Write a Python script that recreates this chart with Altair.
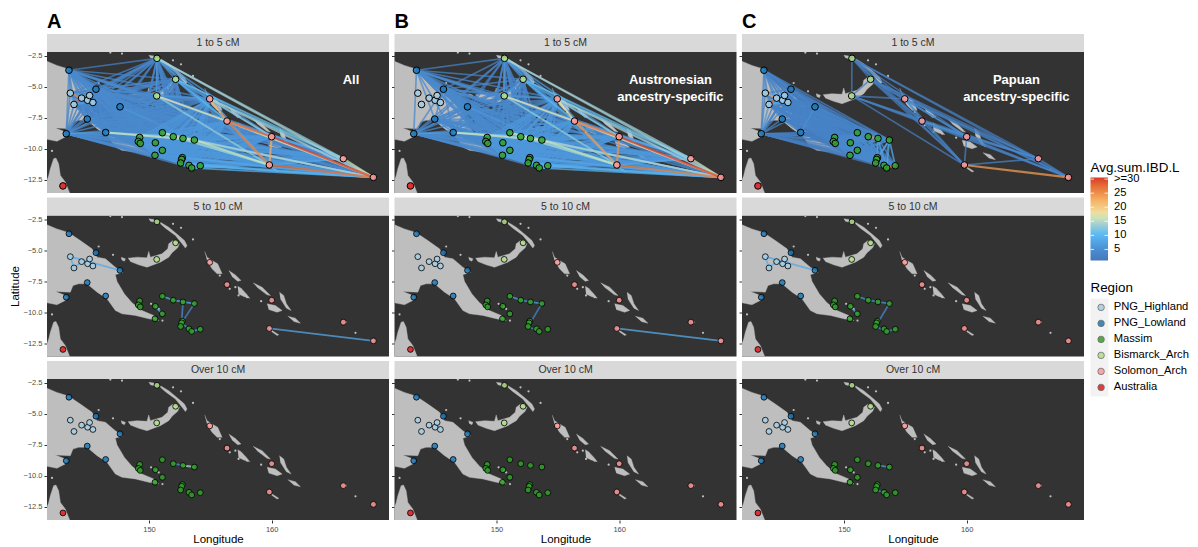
import altair as alt
import pandas as pd

FONT = "Liberation Sans"
REGIONS = ["PNG_Highland", "PNG_Lowland", "Massim", "Bismarck_Arch", "Solomon_Arch", "Australia"]
REGION_COLORS = ["#a6cee3", "#1f78b4", "#33a02c", "#b2df8a", "#fb9a99", "#e31a1c"]
IBD_STOPS = [1, 5, 10, 14, 17, 22, 30.5]
IBD_COLORS = ["#4478b8", "#4a8fd2", "#5ab8f6", "#a9cfd2", "#f0e6b0", "#f7b56a", "#d9382a"]
IBD_TICKS = [5, 10, 15, 20, 25, 30]
LON_RANGE = [141.69, 169.56]
LAT_RANGE = [-13.55, -2.18]
ROWS = ["1 to 5 cM", "5 to 10 cM", "Over 10 cM"]
COLS = ["A", "B", "C"]

site_id = ["H1","H2","H3","H4","H5","H6","L1","L2","L3","L4","L5","L6",
           "M1","M2","M3","M4","M5","M6","M7","M8","M9","M10","M11","M12","M13","M14","M15","M16",
           "B1","B2","B3","S1","S2","S3","S4","S5","S6","AU"]
site_lon = [143.59,144.51,145.00,145.16,145.43,143.89,143.48,145.68,147.64,144.97,143.26,146.47,
            149.24,149.13,149.29,151.09,151.98,152.77,153.70,150.52,151.09,150.49,152.72,152.66,152.58,153.26,153.48,154.18,
            150.65,152.17,150.63,154.95,156.36,160.00,159.81,165.84,168.29,142.99]
site_lat = [-5.50,-5.90,-6.07,-5.69,-6.25,-6.41,-3.65,-5.18,-6.60,-7.59,-8.77,-8.67,
            -9.07,-9.39,-9.55,-8.69,-9.01,-9.15,-9.28,-9.50,-10.11,-10.51,-10.70,-10.84,-11.13,-11.32,-11.53,-11.35,
            -2.69,-4.38,-5.72,-5.96,-7.75,-9.01,-11.29,-10.78,-12.29,-12.98]
site_region = ["PNG_Highland"]*6 + ["PNG_Lowland"]*6 + ["Massim"]*16 + ["Bismarck_Arch"]*3 + ["Solomon_Arch"]*6 + ["Australia"]

# Land outlines, lon/lat
land = {
 "new_guinea": [(141.0,-2.75),(141.69,-2.93),(142.50,-3.26),(143.43,-3.55),(144.41,-4.20),(145.36,-4.87),(145.77,-5.54),(146.45,-5.67),(147.26,-6.35),(147.89,-6.75),(147.26,-6.96),(147.40,-7.50),(148.00,-8.50),(148.62,-9.22),(149.43,-9.84),(150.39,-10.24),(150.79,-10.65),(149.98,-10.51),(148.89,-10.24),(147.80,-10.11),(147.26,-9.84),(146.58,-8.90),(145.77,-8.36),(144.95,-7.69),(144.27,-7.69),(143.81,-7.83),(143.59,-8.36),(142.37,-8.31),(143.05,-8.58),(143.37,-8.77),(143.18,-9.03),(142.50,-9.38),(141.69,-9.22),(141.0,-9.15)],
 "new_britain": [(148.29,-5.62),(149.03,-5.54),(149.84,-5.59),(149.98,-5.08),(150.11,-5.54),(151.06,-5.27),(151.53,-4.87),(151.61,-4.46),(151.96,-4.20),(152.48,-4.46),(152.34,-4.79),(151.88,-5.19),(151.61,-5.54),(150.93,-5.94),(149.84,-6.35),(149.16,-6.16),(148.48,-5.89)],
 "new_ireland": [(150.93,-2.72),(151.61,-3.12),(152.42,-3.79),(152.89,-4.20),(153.10,-4.60),(152.97,-4.81),(152.70,-4.46),(152.15,-3.79),(151.34,-3.20),(150.93,-2.85)],
 "new_hanover": [(149.98,-2.45),(150.39,-2.50),(150.44,-2.72),(150.11,-2.64)],
 "umboi": [(147.72,-5.54),(148.08,-5.67),(148.00,-5.86),(147.78,-5.76)],
 "bougainville": [(154.54,-5.08),(154.73,-5.54),(155.14,-5.81),(155.60,-6.08),(155.96,-6.88),(155.55,-6.88),(155.14,-6.48),(154.73,-5.81)],
 "choiseul": [(156.50,-6.62),(157.04,-6.97),(157.50,-7.42),(157.23,-7.48),(156.77,-7.10)],
 "new_georgia": [(157.23,-7.88),(157.50,-8.04),(157.94,-8.50),(158.21,-8.85),(157.72,-8.71),(157.30,-8.50)],
 "santa_isabel": [(158.48,-7.61),(159.22,-7.96),(159.90,-8.63),(159.62,-8.58),(158.81,-7.96)],
 "malaita": [(160.63,-8.36),(160.98,-8.63),(161.20,-9.30),(161.58,-9.84),(161.20,-9.65),(160.71,-8.90)],
 "guadalcanal": [(159.62,-9.30),(160.30,-9.44),(160.85,-9.84),(160.44,-9.98),(159.76,-9.76)],
 "makira": [(161.31,-10.30),(161.93,-10.46),(162.34,-10.86),(161.80,-10.73)],
 "rennell": [(160.03,-11.45),(160.58,-11.80),(160.44,-11.86),(159.98,-11.53)],
 "cape_york": [(141.0,-12.60),(141.69,-12.53),(141.83,-12.13),(141.96,-11.59),(142.23,-10.78),(142.42,-10.73),(142.64,-11.19),(142.78,-12.13),(143.18,-12.66),(143.54,-13.55),(143.60,-14.2),(141.0,-14.2)],
}
islet_lon = [145.90,147.07,142.10,151.96,152.61,153.59,150.79,150.17,166.83,166.05,159.14,155.77,146.85,147.80,157.30,158.00,157.04,156.58,150.60,151.10]
islet_lat = [-4.68,-5.35,-10.16,-2.85,-3.17,-4.11,-9.71,-9.30,-11.64,-10.78,-9.09,-7.02,-2.23,-2.31,-8.63,-8.77,-7.96,-8.09,-9.55,-10.65]

# Average sharing between region pairs in the 1 to 5 cM panels
pairs_A = {"HL-HL":7,"HL-LL":3,"HL-MA":3,"HL-BI":3,"HL-SO":3,"LL-LL":4,"LL-MA":4,"LL-BI":3,"LL-SO":4,
           "MA-MA":6,"MA-BI":3,"MA-SO":6,"BI-BI":6,"BI-SO":6,"SO-SO":8}
pairs_B = {"LL-LL":4,"LL-MA":4,"LL-BI":3,"LL-SO":4,"MA-MA":6,"MA-BI":3,"MA-SO":6,"BI-BI":6,"BI-SO":6,"SO-SO":8}
pairs_C = {"HL-HL":8,"HL-LL":3,"HL-MA":3,"LL-LL":3,"LL-MA":2,"MA-MA":4,"BI-BI":2,"BI-SO":2,"SO-SO":3}
strong_A = [("S3","S6",30),("S2","S3",28),("S4","S6",27),("S2","S4",26),("S3","S4",23),("S1","S2",22),("H2","H6",28),("H1","H2",26),
            ("S2","S6",17),("S5","S6",16),("B3","S2",17),("B1","S6",14),("B1","S5",13),("S1","S6",14),("S1","S5",12),("S1","S3",13),
            ("M4","M7",16),("M7","S4",16),("M7","S6",14),("L6","M7",16),("L6","M5",13),("M5","S4",13),("M6","S6",13),("B3","S4",13),("M4","S4",13),
            ("S3","S5",8),("B2","S5",11),("B2","S2",10),("M16","S6",9),("M15","S6",9),("M14","S6",9),("M13","S6",9),("M11","S6",8),("L5","L6",7),("L3","M7",6),("B1","L1",2)]
strong_B = [("S3","S6",30),("S2","S3",27),("S4","S6",26),("S3","S4",25),("S2","S4",24),("S1","S2",17),
            ("S2","S6",17),("S5","S6",16),("B3","S2",17),("B1","S6",14),("B1","S5",13),("S1","S6",14),("S1","S5",12),("S1","S3",13),
            ("M4","M7",16),("M7","S4",16),("M7","S6",14),("L6","M7",16),("L6","M5",13),("M5","S4",13),("M6","S6",13),("B3","S4",13),("M4","S4",13),
            ("B2","S5",11),("B2","S2",10),("M16","S6",9),("M15","S6",9),("M14","S6",9),("M13","S6",9),("M11","S6",8),("L5","L6",7),("L3","M7",6)]
strong_C = [("S4","S6",24),("H2","H6",28),("H1","H2",24),("M15","M16",27),("M5","M6",25),("S1","S2",6),("S1","S3",5),("S2","S3",5),
            ("L3","M7",4),("L3","L6",5),("L1","H1",5),("L5","H6",6),("M7","M16",8),("M7","M15",8),("M6","M15",7),("M7","M12",7),("M6","M11",7),("S2","S5",4)]

# Specific pairs of sites in the longer length classes
edges_5_10 = {
 "A": [("H1","L3",8),("H1","H6",9),("H6","H2",9),("M4","M5",9),("M5","M6",10),("M6","M7",9),("M6","M12",5),("M7","M12",4),("M8","M9",9),("M12","M14",6),("M14","M15",6),("M15","M16",8),("S4","S6",8)],
 "B": [("M4","M5",8),("M5","M6",6),("M6","M7",7),("M7","M13",3),("M13","M15",4),("S4","S6",8.5)],
 "C": [("H1","L3",8),("H1","H6",9),("H6","H2",9),("M4","M5",6),("M5","M6",5),("M6","M7",5),("M7","M13",4),("M8","M9",8),("M13","M15",5),("M15","M16",6)],
}
edges_over_10 = {
 "A": [("M5","M6",6),("M6","M7",15)],
 "B": [],
 "C": [("M6","M7",7),("M13","M14",5)],
}
notes = {"A": ["All"], "B": ["Austronesian", "ancestry-specific"], "C": ["Papuan", "ancestry-specific"]}
note_lon = {"A": 166.46, "B": 164.18, "C": 164.05}
note_lat = [-4.44, -5.81]

code = {"PNG_Highland":"HL","PNG_Lowland":"LL","Massim":"MA","Bismarck_Arch":"BI","Solomon_Arch":"SO"}
pos = {s:(x,y,r) for s,x,y,r in zip(site_id, site_lon, site_lat, site_region)}

def table(triples):
    rows = [dict(lon1=pos[a][0], lat1=pos[a][1], lon2=pos[b][0], lat2=pos[b][1], ibd=v) for a,b,v in triples]
    rows.sort(key=lambda r: r["ibd"])
    return pd.DataFrame(rows, columns=["lon1","lat1","lon2","lat2","ibd"])

def first_class(pairs, strong):
    named = {frozenset((a,b)):v for a,b,v in strong}
    out = []
    ids = [s for s in site_id if s != "AU"]
    for i,a in enumerate(ids):
        for b in ids[i+1:]:
            ra, rb = code[pos[a][2]], code[pos[b][2]]
            v = pairs.get(ra+"-"+rb, pairs.get(rb+"-"+ra))
            v = named.get(frozenset((a,b)), v)
            if v is not None:
                out.append((a,b,v))
    return out

edge_tables = {
 ("A",0): table(first_class(pairs_A, strong_A)),
 ("B",0): table(first_class(pairs_B, strong_B)),
 ("C",0): table(first_class(pairs_C, strong_C)),
}
for c in COLS:
    edge_tables[(c,1)] = table(edges_5_10[c])
    edge_tables[(c,2)] = table(edges_over_10[c])

land_df = pd.DataFrame([dict(island=k, ord=i, lon=p[0], lat=p[1]) for k,v in land.items() for i,p in enumerate(v)])
islet_df = pd.DataFrame(dict(lon=islet_lon, lat=islet_lat))
site_df = pd.DataFrame(dict(site=site_id, lon=site_lon, lat=site_lat, Region=site_region))

W, H, STRIP, GAP, SPACE = 342, 141, 18, 4.5, 5.5
DARK, LAND, STRIP_BG = "#333333", "#bebebe", "#d9d9d9"
GREY = "#4d4d4d"
LEG_X = W + SPACE + 1             # legend column, relative to the last panel
GRAD_TOP, GRAD_LEN = 177.7 - 379, 83
ROOT_X = 2 * (W + SPACE) + LEG_X  # the same column, relative to the first panel
ROOT_TOP = 52                     # page y of the top of the first panel

stroke_legend = alt.Legend(type="gradient", title="Avg.sum.IBD.L", orient="none", direction="vertical",
                           legendX=ROOT_X, legendY=160.5-ROOT_TOP, gradientLength=GRAD_LEN, gradientThickness=17.5, values=IBD_TICKS,
                           labelExpr="datum.value >= 30 ? '>=30' : datum.label", labelFontSize=11.2, labelColor="black",
                           titleFontSize=13.4, titleFontWeight="normal", titleColor="black", labelOverlap=False,
                           titleFont=FONT, labelFont=FONT, titlePadding=3.5, labelOffset=6)
fill_legend = alt.Legend(title="Region", orient="none", legendX=ROOT_X, legendY=281-ROOT_TOP, symbolType="circle", symbolSize=42,
                         symbolStrokeColor="#555555", symbolStrokeWidth=0.8, symbolOpacity=0.85, symbolOffset=5, labelFontSize=11.2, labelColor="black",
                         titleFontSize=13.4, titleFontWeight="normal", titleColor="black", clipHeight=12, rowPadding=4, labelOffset=7,
                         titleFont=FONT, labelFont=FONT, titlePadding=7)

def x_enc(field, r):
    scale = alt.Scale(domain=LON_RANGE, nice=False, zero=False)
    if r < 2:
        return alt.X(field, type="quantitative", scale=scale, axis=None)
    return alt.X(field, type="quantitative", scale=scale, title="Longitude",
                 axis=alt.Axis(values=[150,160], format="d", grid=False, domain=False, labelFontSize=7.5, labelColor=GREY,
                               tickColor="#333333", tickSize=3, titleFontSize=11.5, titleFontWeight="normal", titleColor="black",
                               titlePadding=1, labelPadding=2, titleFont=FONT, labelFont=FONT))

def y_enc(field, r, c):
    scale = alt.Scale(domain=LAT_RANGE, nice=False, zero=False)
    title = "Latitude" if (r == 1 and c == 0) else None
    return alt.Y(field, type="quantitative", scale=scale, title=title,
                 axis=alt.Axis(values=[-2.5,-5,-7.5,-10,-12.5], format=".1f", grid=False, domain=False, labels=(c == 0), labelFontSize=7.5,
                               labelColor=GREY, tickColor="#333333", tickSize=3, labelPadding=2, titleFontSize=11.5, titleFontWeight="normal",
                               titleColor="black", titlePadding=3, titleFont=FONT, labelFont=FONT))

def panel(c, r):
    ci = COLS.index(c)
    with_ticks = (c == "C" and r == 2)
    strip_df = pd.DataFrame(dict(t=[ROWS[r]]))
    strip_rect = alt.Chart(strip_df).mark_rect(color=STRIP_BG).encode(
        x=alt.value(0), x2=alt.value(W), y=alt.value(-STRIP), y2=alt.value(0))
    strip_text = alt.Chart(strip_df).mark_text(fontSize=10.5, color="#333333", font=FONT).encode(
        text="t:N", x=alt.value(W/2), y=alt.value(-STRIP/2))
    land_layer = alt.Chart(land_df).mark_line(fill=LAND, stroke=LAND, strokeWidth=0.4, clip=True).encode(
        x=x_enc("lon", r), y=y_enc("lat", r, ci), detail="island:N", order="ord:Q")
    islets = alt.Chart(islet_df).mark_circle(size=5, color=LAND, opacity=1, clip=True).encode(
        x=x_enc("lon", r), y=y_enc("lat", r, ci))
    edges = alt.Chart(edge_tables[(c, r)]).mark_rule(strokeOpacity=0.75, clip=True).encode(
        x=x_enc("lon1", r), y=y_enc("lat1", r, ci), x2="lon2:Q", y2="lat2:Q",
        strokeWidth=alt.StrokeWidth("ibd:Q", scale=alt.Scale(domain=[1, 30], range=[1.6, 2.3]), legend=None),
        stroke=alt.Stroke("ibd:Q", scale=alt.Scale(domain=IBD_STOPS, range=IBD_COLORS, clamp=True),
                          legend=stroke_legend if (c == "A" and r == 0) else None))
    points = alt.Chart(site_df).mark_circle(size=44 if r == 0 else 34, stroke="black", strokeWidth=1.0 if r == 0 else 0.8,
                                            fillOpacity=0.85, opacity=1, clip=True).encode(
        x=x_enc("lon", r), y=y_enc("lat", r, ci),
        fill=alt.Fill("Region:N", scale=alt.Scale(domain=REGIONS, range=REGION_COLORS), legend=fill_legend))
    layers = [strip_rect, strip_text, land_layer, islets, edges, points]
    if r == 0:
        df = pd.DataFrame(dict(t=notes[c], lon=[note_lon[c]]*len(notes[c]), lat=note_lat[:len(notes[c])]))
        layers.append(alt.Chart(df).mark_text(color="white", fontWeight="bold", fontSize=13, font=FONT).encode(
            x=x_enc("lon", r), y=y_enc("lat", r, ci), text="t:N"))
    if with_ticks:
        tick_df = pd.DataFrame(dict(px=[GRAD_TOP + (30.5 - v) * GRAD_LEN / 29.5 for v in IBD_TICKS]))
        for a, b in [(LEG_X, LEG_X + 3.5), (LEG_X + 14, LEG_X + 17.5)]:
            layers.append(alt.Chart(tick_df).mark_rule(color="white", strokeWidth=0.8).encode(
                y=alt.Y("px:Q", scale=None, axis=None), x=alt.value(a), x2=alt.value(b)))
        layers.append(alt.Chart(strip_df).mark_rect(color="#000000", opacity=0.05).encode(
            x=alt.value(LEG_X), x2=alt.value(LEG_X + 18), y=alt.value(298.5-379), y2=alt.value(396.5-379)))
    props = dict(width=W, height=H, view=alt.ViewBackground(fill=DARK, stroke=None))
    if r == 0:
        props["title"] = alt.TitleParams(c, anchor="start", frame="group", fontSize=20, fontWeight="bold", font=FONT, color="black", offset=2)
    return alt.layer(*layers).properties(**props)

panels = [panel(c, r) for r in range(3) for c in COLS]
chart = alt.concat(*panels, columns=3, spacing={"row": STRIP + GAP, "column": SPACE},
                   bounds="flush").resolve_scale(stroke="independent").properties(
    padding={"left": 1, "top": 4, "right": 0, "bottom": 2}).configure_view(stroke=None)

chart.save("out.html", embed_options={"renderer": "svg", "actions": False})
